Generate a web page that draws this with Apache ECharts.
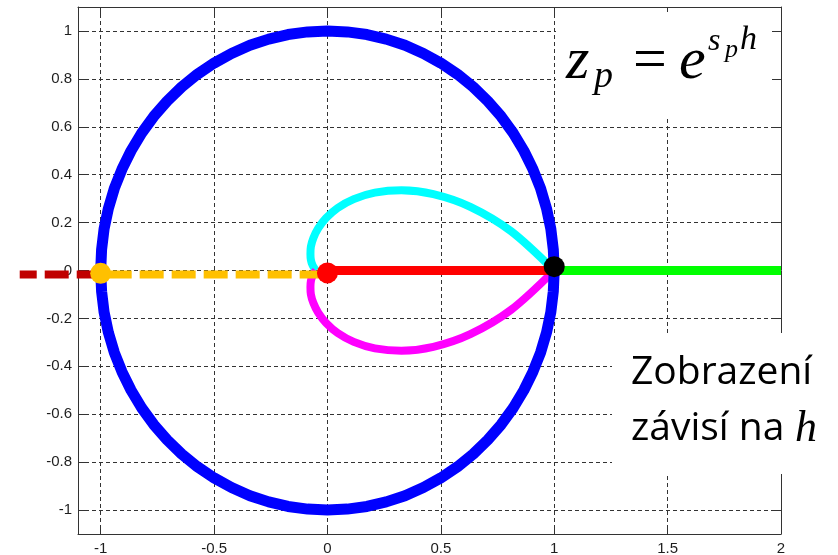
<!DOCTYPE html>
<html>
<head>
<meta charset="utf-8">
<script src="https://cdn.jsdelivr.net/npm/echarts@6/dist/echarts.min.js"></script>
<style>
  html, body { margin: 0; padding: 0; background: #ffffff; }
  #chart { width: 838px; height: 555px; }
</style>
</head>
<body>
<div id="chart"></div>
<script>
// Tick values and their printed labels
const xTickValues = [-1, -0.5, 0, 0.5, 1, 1.5, 2];
const xTickLabels = ['-1', '-0.5', '0', '0.5', '1', '1.5', '2'];
const yTickValues = [-1, -0.8, -0.6, -0.4, -0.2, 0, 0.2, 0.4, 0.6, 0.8, 1];
const yTickLabels = ['-1', '-0.8', '-0.6', '-0.4', '-0.2', '0', '0.2', '0.4', '0.6', '0.8', '1'];

// Unit circle (stability boundary), every 5 degrees
const circleX = [
  1, 0.996, 0.985, 0.966, 0.940, 0.906, 0.866, 0.819, 0.766, 0.707, 0.643, 0.574, 0.5, 0.423, 0.342, 0.259, 0.174, 0.087, 0,
  -0.087, -0.174, -0.259, -0.342, -0.423, -0.5, -0.574, -0.643, -0.707, -0.766, -0.819, -0.866, -0.906, -0.940, -0.966, -0.985, -0.996, -1,
  -0.996, -0.985, -0.966, -0.940, -0.906, -0.866, -0.819, -0.766, -0.707, -0.643, -0.574, -0.5, -0.423, -0.342, -0.259, -0.174, -0.087, 0,
  0.087, 0.174, 0.259, 0.342, 0.423, 0.5, 0.574, 0.643, 0.707, 0.766, 0.819, 0.866, 0.906, 0.940, 0.966, 0.985, 0.996, 1];
const circleY = [
  0, 0.087, 0.174, 0.259, 0.342, 0.423, 0.5, 0.574, 0.643, 0.707, 0.766, 0.819, 0.866, 0.906, 0.940, 0.966, 0.985, 0.996, 1,
  0.996, 0.985, 0.966, 0.940, 0.906, 0.866, 0.819, 0.766, 0.707, 0.643, 0.574, 0.5, 0.423, 0.342, 0.259, 0.174, 0.087, 0,
  -0.087, -0.174, -0.259, -0.342, -0.423, -0.5, -0.574, -0.643, -0.707, -0.766, -0.819, -0.866, -0.906, -0.940, -0.966, -0.985, -0.996, -1,
  -0.996, -0.985, -0.966, -0.940, -0.906, -0.866, -0.819, -0.766, -0.707, -0.643, -0.574, -0.5, -0.423, -0.342, -0.259, -0.174, -0.087, 0];

// Upper branch (cyan): constant damping poles mapped to z
const upperX = [1, 0.810, 0.630, 0.467, 0.326, 0.209, 0.116, 0.045, -0.006, -0.041, -0.062, -0.073, -0.075, -0.073, -0.066, -0.057, -0.051];
const upperY = [0, 0.164, 0.266, 0.319, 0.335, 0.325, 0.298, 0.261, 0.219, 0.176, 0.136, 0.100, 0.069, 0.044, 0.023, 0.008, 0];

// Lower branch (magenta): conjugate poles
const lowerX = [1, 0.810, 0.630, 0.467, 0.326, 0.209, 0.116, 0.045, -0.006, -0.041, -0.062, -0.073, -0.075, -0.073, -0.066, -0.057, -0.051];
const lowerY = [0, -0.164, -0.266, -0.319, -0.335, -0.325, -0.298, -0.261, -0.219, -0.176, -0.136, -0.100, -0.069, -0.044, -0.023, -0.008, 0];

// Real-axis segments
const redSegX = [0, 1];      const redSegY = [0, 0];
const greenSegX = [1, 2];    const greenSegY = [0, 0];
const goldSegX = [-1, 0];    const goldSegY = [-0.017, -0.017];
const darkRedSegX = [-1.357, -1]; const darkRedSegY = [-0.017, -0.017];

// Marked points
const goldDot = [-1, -0.012];
const redDot = [0, -0.010];
const blackDot = [1, 0.016];

// Axis ranges
const xMin = -1.1, xMax = 2;
const yMin = -1.1, yMax = 1.1;

function pairs(xs, ys) { return xs.map((x, i) => [x, ys[i]]); }
function pickLabel(values, labels) {
  return function (v) {
    const i = values.findIndex(t => Math.abs(t - v) < 1e-6);
    return i >= 0 ? labels[i] : '';
  };
}

const W = 838, H = 555;
const plot = { left: 78, right: 57, top: 7, bottom: 21 };
// A second, invisible coordinate system spanning the whole width with the same scale,
// so the negative real-axis continuation can run past the frame.
const pxPerUnit = (W - plot.left - plot.right) / (xMax - xMin);
const wideMin = xMin - plot.left / pxPerUnit;
const wideMax = xMax + plot.right / pxPerUnit;

const axisColor = '#333333';
const gridLine = { show: true, lineStyle: { type: [4, 3], color: '#333333', width: 1 } };
const tickStyle = { show: true, inside: true, length: 7, lineStyle: { color: axisColor, width: 1 } };
const labelFont = { color: '#1e1e1e', fontFamily: 'Liberation Sans', fontSize: 15 };

function lineSeries(xs, ys, color, width, extra) {
  return Object.assign({
    type: 'line',
    data: pairs(xs, ys),
    symbol: 'none',
    showSymbol: false,
    silent: true,
    lineStyle: { color: color, width: width, cap: 'butt', join: 'round' },
    z: 2
  }, extra || {});
}
function dotSeries(pt, color) {
  return {
    type: 'scatter',
    data: [pt],
    symbol: 'circle',
    symbolSize: 21,
    silent: true,
    itemStyle: { color: color, opacity: 1 },
    z: 5
  };
}

// Text helpers: place text by its alphabetic baseline
function baselineText(str, x, base, size, family, italic, k) {
  return {
    type: 'text',
    x: x,
    y: base - k * size,
    z: 101,
    style: {
      text: str,
      fontSize: size,
      fontFamily: family,
      fontStyle: italic ? 'italic' : 'normal',
      fill: '#000000',
      align: 'left', verticalAlign: 'middle',
      textAlign: 'left', textVerticalAlign: 'middle'
    }
  };
}
const SERIF = 'Liberation Serif';
const SANS = 'Open Sans';
const kSerif = 0.34, kSans = 0.39;

const hiddenAxis = {
  show: false,
  axisLine: { show: false, onZero: false }, axisTick: { show: false },
  axisLabel: { show: false }, splitLine: { show: false }
};

const chart = echarts.init(document.getElementById('chart'), null, { renderer: 'canvas' });
chart.setOption({
  animation: false,
  backgroundColor: '#ffffff',
  grid: [
    Object.assign({ containLabel: false, outerBoundsMode: 'none' }, plot),
    { left: 0, right: 0, top: plot.top, bottom: plot.bottom, containLabel: false, outerBoundsMode: 'none' }
  ],
  xAxis: [
    {
      type: 'value', gridIndex: 0, position: 'bottom', min: xMin, max: xMax,
      splitNumber: 6, minInterval: 0.5, maxInterval: 0.5,
      axisLine: { show: true, onZero: false, lineStyle: { color: axisColor, width: 1 } },
      axisTick: tickStyle,
      axisLabel: Object.assign({ margin: 7, showMinLabel: false, formatter: pickLabel(xTickValues, xTickLabels) }, labelFont),
      splitLine: gridLine
    },
    {
      type: 'value', gridIndex: 0, position: 'top', min: xMin, max: xMax,
      splitNumber: 6, minInterval: 0.5, maxInterval: 0.5,
      axisLine: { show: true, onZero: false, lineStyle: { color: axisColor, width: 1 } },
      axisTick: tickStyle, axisLabel: { show: false }, splitLine: { show: false }
    },
    Object.assign({ type: 'value', gridIndex: 1, min: wideMin, max: wideMax }, hiddenAxis)
  ],
  yAxis: [
    {
      type: 'value', gridIndex: 0, position: 'left', min: yMin, max: yMax,
      splitNumber: 11, minInterval: 0.2, maxInterval: 0.2,
      axisLine: { show: true, onZero: false, lineStyle: { color: axisColor, width: 1 } },
      axisTick: tickStyle,
      axisLabel: Object.assign({ margin: 6, showMinLabel: false, showMaxLabel: false, formatter: pickLabel(yTickValues, yTickLabels) }, labelFont),
      splitLine: gridLine
    },
    {
      type: 'value', gridIndex: 0, position: 'right', min: yMin, max: yMax,
      splitNumber: 11, minInterval: 0.2, maxInterval: 0.2,
      axisLine: { show: true, onZero: false, lineStyle: { color: axisColor, width: 1 } },
      axisTick: tickStyle, axisLabel: { show: false }, splitLine: { show: false }
    },
    Object.assign({ type: 'value', gridIndex: 1, min: yMin, max: yMax }, hiddenAxis)
  ],
  series: [
    lineSeries(upperX, upperY, '#00FFFF', 8, { smooth: 0.3 }),
    lineSeries(lowerX, lowerY, '#FF00FF', 8, { smooth: 0.3 }),
    lineSeries(circleX, circleY, '#0000FF', 11),
    lineSeries(goldSegX, goldSegY, '#FFC000', 8, { lineStyle: { color: '#FFC000', width: 8, type: [24, 8], dashOffset: 25, cap: 'butt' } }),
    lineSeries(darkRedSegX, darkRedSegY, '#C00000', 8, {
      xAxisIndex: 2, yAxisIndex: 2, z: 3,
      lineStyle: { color: '#C00000', width: 8, type: [24, 8], dashOffset: 7, cap: 'butt' }
    }),
    lineSeries(redSegX, redSegY, '#FF0000', 9),
    lineSeries(greenSegX, greenSegY, '#00FF00', 9),
    dotSeries(goldDot, '#FFC000'),
    dotSeries(redDot, '#FF0000'),
    dotSeries(blackDot, '#000000')
  ],
  graphic: [
    { type: 'rect', z: 100, shape: { x: 556, y: 12, width: 216, height: 104 }, style: { fill: '#ffffff' } },
    { type: 'rect', z: 100, shape: { x: 612, y: 333, width: 226, height: 141 }, style: { fill: '#ffffff' } },
    // z_p = e^{s_p h}
    baselineText('z', 566, 83, 60, SERIF, true, kSerif),
    baselineText('p', 594, 90, 38, SERIF, true, kSerif),
    baselineText('=', 633, 83, 60, SERIF, false, kSerif),
    baselineText('e', 679, 83, 60, SERIF, true, kSerif),
    baselineText('s', 708, 52, 32, SERIF, true, kSerif),
    baselineText('p', 725, 59, 26, SERIF, true, kSerif),
    baselineText('h', 740, 52, 34, SERIF, true, kSerif),
    // Caption
    baselineText('Zobrazení', 631, 388, 39, SANS, false, kSans),
    baselineText('závisí na', 631, 444, 39, SANS, false, kSans),
    baselineText('h', 795, 444, 44, SERIF, true, kSerif)
  ]
});
</script>
</body>
</html>
